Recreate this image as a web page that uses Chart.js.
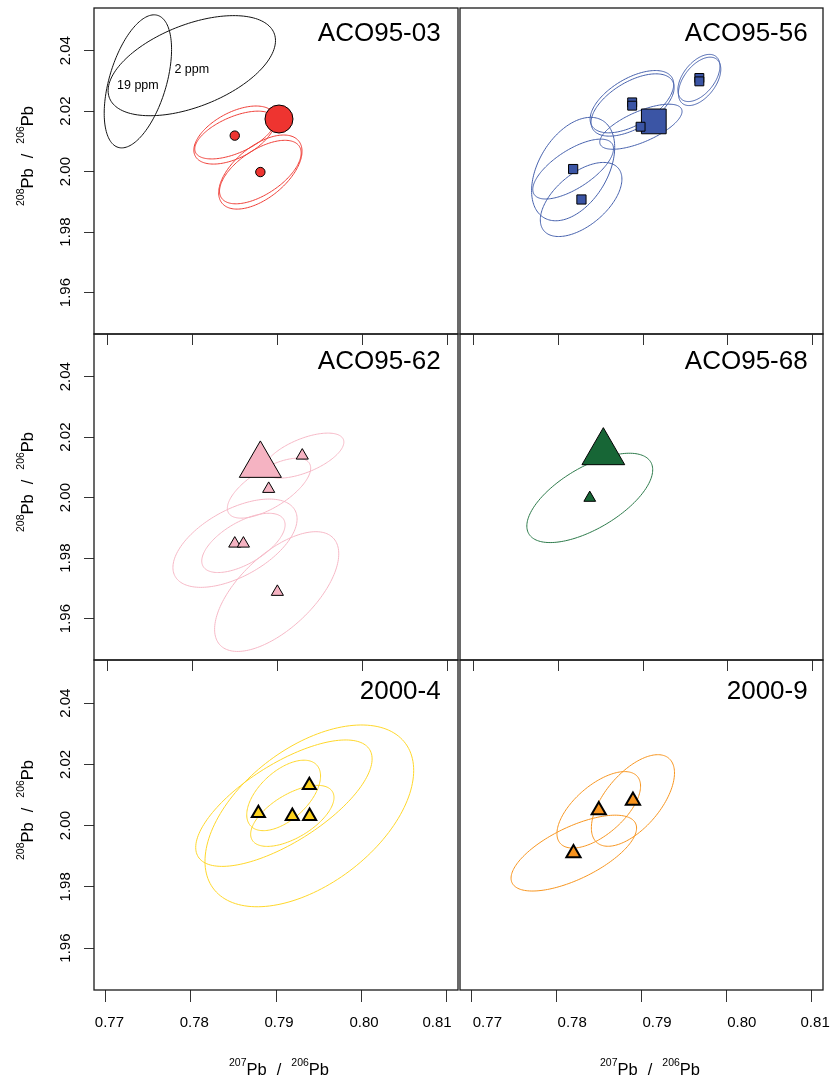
<!DOCTYPE html>
<html>
<head>
<meta charset="utf-8">
<script src="https://cdn.jsdelivr.net/npm/chart.js@4.4.0/dist/chart.umd.min.js"></script>
<style>
    html, body { margin: 0; padding: 0; background: #fff; }
    #wrap { position: relative; width: 838px; height: 1083px; }
    #wrap canvas { position: absolute; left: 0; top: 0; }
</style>
</head>
<body>
<div id="wrap">
    <canvas id="p0" width="838" height="1083"></canvas>
    <canvas id="p1" width="838" height="1083"></canvas>
    <canvas id="p2" width="838" height="1083"></canvas>
    <canvas id="p3" width="838" height="1083"></canvas>
    <canvas id="p4" width="838" height="1083"></canvas>
    <canvas id="p5" width="838" height="1083"></canvas>
</div>
<script>
// Axis setup
const xTicks = [0.77, 0.78, 0.79, 0.80, 0.81];
const yTicks = [1.96, 1.98, 2.00, 2.02, 2.04];
const xRange = [0.7686, 0.8114];
const yRange = [1.9463, 2.0541];

const panelNames = ['ACO95-03', 'ACO95-56', 'ACO95-62', 'ACO95-68', '2000-4', '2000-9'];

// Ellipse rows: centre x, centre y, half range x, half range y, correlation

// ACO95-03 (first point is the large one)
const aco03X = [0.79035, 0.78515, 0.78816];
const aco03Y = [2.01739, 2.01190, 1.99985];
const aco03Ell = [
    [0.78515, 2.01209, 0.00481, 0.00960, 0.52],
    [0.78515, 2.01209, 0.00470, 0.00790, 0.58],
    [0.78816, 1.99985, 0.00490, 0.01225, 0.56],
    [0.78816, 1.99985, 0.00480, 0.01050, 0.60]
];
// standards drawn in black
const stdEll = [
    [0.78010, 2.03503, 0.00984, 0.01655, 0.50],
    [0.77376, 2.02984, 0.00396, 0.02200, 0.48]
];
const stdNames = ['2 ppm', '19 ppm'];
const stdLabelX = [0.78010, 0.77376];
const stdLabelY = [2.03371, 2.02841];

// ACO95-56
const aco56X = [0.79145, 0.78890, 0.78890, 0.79682, 0.79682, 0.78194, 0.78292, 0.78989];
const aco56Y = [2.01660, 2.02289, 2.02180, 2.03096, 2.02984, 2.00084, 1.99078, 2.01484];
const aco56Ell = [
    [0.79677, 2.03096, 0.00248, 0.00780, 0.50],
    [0.79685, 2.02984, 0.00250, 0.00800, 0.50],
    [0.78887, 2.02312, 0.00493, 0.01030, 0.56],
    [0.78895, 2.02203, 0.00490, 0.01030, 0.56],
    [0.78993, 2.01484, 0.00485, 0.00745, 0.68],
    [0.78194, 2.00084, 0.00490, 0.01710, 0.42],
    [0.78194, 2.00084, 0.00476, 0.00990, 0.68],
    [0.78288, 1.99078, 0.00481, 0.01225, 0.55]
];

// ACO95-62
const aco62X = [0.78816, 0.79309, 0.78914, 0.78515, 0.78617, 0.79016];
const aco62Y = [2.01071, 2.01389, 2.00288, 1.98479, 1.98479, 1.96883];
const aco62Ell = [
    [0.79328, 2.01389, 0.00470, 0.00744, 0.60],
    [0.78918, 2.00311, 0.00490, 0.00990, 0.67],
    [0.78518, 1.98492, 0.00730, 0.01460, 0.55],
    [0.78617, 1.98502, 0.00490, 0.00980, 0.61],
    [0.79008, 1.96893, 0.00730, 0.01980, 0.63]
];

// ACO95-68
const aco68X = [0.78550, 0.78390];
const aco68Y = [2.01497, 1.99990];
const aco68Ell = [
    [0.78390, 1.99990, 0.00742, 0.01477, 0.63]
];

// 2000-4
const s4X = [0.79392, 0.78793, 0.79192, 0.79395];
const s4Y = [2.01318, 2.00404, 2.00309, 2.00309];
const s4Ell = [
    [0.79392, 2.00318, 0.01227, 0.02969, 0.50],
    [0.79093, 2.00733, 0.01037, 0.02065, 0.70],
    [0.79090, 2.00986, 0.00434, 0.01151, 0.55],
    [0.79192, 2.00318, 0.00490, 0.00997, 0.60]
];

// 2000-9
const s9X = [0.78899, 0.78496, 0.78198];
const s9Y = [2.00815, 2.00506, 1.99098];
const s9Ell = [
    [0.78899, 2.00821, 0.00490, 0.01496, 0.60],
    [0.78496, 2.00515, 0.00493, 0.01249, 0.62],
    [0.78202, 1.99102, 0.00740, 0.01239, 0.66]
];

const FONT = "'Liberation Sans', Arial, Helvetica, sans-serif";

// Draw "^top Pb / ^bottom Pb" centred at the origin
function drawPbRatio(ctx, top, bottom) {
    const big = '16.5px ' + FONT, small = '10.5px ' + FONT;
    const parts = [[top, small, -9, 0], ['Pb', big, 0, 10], ['/', big, 0, 10],
                   [bottom, small, -9, 0], ['Pb', big, 0, 0]];
    let total = 0;
    parts.forEach(p => { ctx.font = p[1]; p.push(ctx.measureText(p[0]).width); total += p[4] + p[3]; });
    let cur = -total / 2;
    ctx.textAlign = 'left';
    ctx.textBaseline = 'alphabetic';
    parts.forEach(p => {
        ctx.font = p[1];
        ctx.fillText(p[0], cur, p[2]);
        cur += p[4] + p[3];
    });
}

const panelDecor = {
    id: 'panelDecor',
    beforeDatasetsDraw(chart, args, o) {
        const { ctx, chartArea: a, scales: { x, y } } = chart;
        ctx.save();
        ctx.beginPath();
        ctx.rect(a.left, a.top, a.right - a.left, a.bottom - a.top);
        ctx.clip();
        o.ellipses.forEach(group => {
            ctx.strokeStyle = group.color;
            ctx.lineWidth = 1;
            group.rows.forEach(([cx, cy, sx, sy, rho]) => {
                const k = Math.sqrt(1 - rho * rho);
                ctx.beginPath();
                for (let i = 0; i <= 160; i++) {
                    const t = i / 160 * 2 * Math.PI;
                    const px = x.getPixelForValue(cx + sx * Math.cos(t));
                    const py = y.getPixelForValue(cy + sy * (rho * Math.cos(t) + k * Math.sin(t)));
                    if (i === 0) ctx.moveTo(px, py); else ctx.lineTo(px, py);
                }
                ctx.closePath();
                ctx.stroke();
            });
        });
        ctx.restore();
    },
    afterDraw(chart, args, o) {
        const { ctx, chartArea: a, scales: { x, y } } = chart;
        ctx.save();
        ctx.fillStyle = '#000';
        ctx.strokeStyle = '#1a1a1a';

        // frame
        ctx.lineWidth = 1.3;
        ctx.strokeRect(a.left, a.top, a.right - a.left, a.bottom - a.top);

        // x ticks running into the panel below
        if (o.ticksBelow) {
            ctx.lineWidth = 1;
            ctx.strokeStyle = '#333';
            x.ticks.forEach(t => {
                const px = Math.round(x.getPixelForValue(t.value)) + 1.5;
                ctx.beginPath();
                ctx.moveTo(px, a.bottom);
                ctx.lineTo(px, a.bottom + 11);
                ctx.stroke();
            });
        }

        // sample name
        ctx.font = '26px ' + FONT;
        ctx.textAlign = 'right';
        ctx.textBaseline = 'alphabetic';
        ctx.fillText(o.title, o.titleX, a.top + o.titleDy);

        // labels inside the plot
        (o.labels || []).forEach(l => {
            ctx.font = '12.5px ' + FONT;
            ctx.textAlign = 'center';
            ctx.textBaseline = 'middle';
            ctx.fillText(l.text, x.getPixelForValue(l.x), y.getPixelForValue(l.y));
        });

        // left axis labels and title
        if (o.yAxis) {
            ctx.font = '15px ' + FONT;
            y.ticks.forEach(t => {
                ctx.save();
                ctx.translate(a.left - 24, y.getPixelForValue(t.value));
                ctx.rotate(-Math.PI / 2);
                ctx.textAlign = 'center';
                ctx.textBaseline = 'alphabetic';
                ctx.fillText(t.value.toFixed(2), 0, 0);
                ctx.restore();
            });
            ctx.save();
            ctx.translate(33, (a.top + a.bottom) / 2 - 15);
            ctx.rotate(-Math.PI / 2);
            drawPbRatio(ctx, '208', '206');
            ctx.restore();
        }

        // bottom axis labels (set slightly off their ticks, as in the original figure) and title
        if (o.xAxis) {
            ctx.font = '15px ' + FONT;
            ctx.textAlign = 'center';
            ctx.textBaseline = 'alphabetic';
            x.ticks.forEach((t, j) => {
                ctx.fillText(t.value.toFixed(2), x.getPixelForValue(t.value) + o.xLabelShift[j], a.bottom + 36.5);
            });
            ctx.save();
            ctx.translate(o.xTitleX, a.bottom + 85);
            drawPbRatio(ctx, '207', '206');
            ctx.restore();
        }
        ctx.restore();
    }
};

const rects = [
    { left: 94, top: 8, right: 458, bottom: 334 },
    { left: 460, top: 8, right: 823, bottom: 334 },
    { left: 94, top: 334, right: 458, bottom: 660 },
    { left: 460, top: 334, right: 823, bottom: 660 },
    { left: 94, top: 660, right: 458, bottom: 990 },
    { left: 460, top: 660, right: 823, bottom: 990 }
];

function makePanel(i, cfg) {
    const r = rects[i];
    const leftCol = i % 2 === 0;
    const bottomRow = i >= 4;
    const W = 838, H = 1083;

    new Chart(document.getElementById('p' + i), {
        type: 'scatter',
        data: {
            datasets: [{
                data: cfg.xs.map((v, j) => ({ x: v, y: cfg.ys[j] })),
                pointStyle: cfg.style,
                pointRadius: cfg.radius,
                backgroundColor: cfg.fill,
                borderColor: '#000',
                borderWidth: cfg.border,
                clip: false
            }]
        },
        options: {
            responsive: false,
            animation: false,
            devicePixelRatio: 1,
            events: [],
            layout: {
                autoPadding: false,
                padding: {
                    left: leftCol ? 0 : r.left,
                    top: r.top,
                    right: W - r.right,
                    bottom: bottomRow ? 0 : H - r.bottom
                }
            },
            plugins: {
                legend: { display: false },
                tooltip: { enabled: false },
                panelDecor: {
                    ellipses: cfg.ellipses,
                    title: panelNames[i],
                    titleX: leftCol ? 440.7 : 807.7,
                    titleDy: i < 2 ? 33 : (i < 4 ? 35.3 : 39.3),
                    ticksBelow: !bottomRow,
                    yAxis: leftCol,
                    xAxis: bottomRow,
                    xTitleX: leftCol ? 279 : 650,
                    xLabelShift: leftCol ? [3.5, 3.3, 3, 3, -9] : [15.5, 15.5, 15.5, 15.5, 4],
                    labels: cfg.labels
                }
            },
            scales: {
                x: {
                    type: 'linear',
                    min: xRange[0],
                    max: xRange[1],
                    display: bottomRow,
                    afterBuildTicks: s => { s.ticks = xTicks.map(v => ({ value: v })); },
                    afterFit: s => { if (bottomRow) s.height = H - r.bottom; },
                    ticks: { display: false },
                    grid: { drawOnChartArea: false, drawTicks: true, tickLength: 12, color: '#333', lineWidth: 1 },
                    border: { display: false }
                },
                y: {
                    type: 'linear',
                    min: yRange[0],
                    max: yRange[1],
                    display: leftCol,
                    afterBuildTicks: s => { s.ticks = yTicks.map(v => ({ value: v })); },
                    afterFit: s => { if (leftCol) s.width = r.left; },
                    ticks: { display: false },
                    grid: { drawOnChartArea: false, drawTicks: true, tickLength: 10, color: '#333', lineWidth: 1 },
                    border: { display: false }
                }
            }
        },
        plugins: [panelDecor]
    });
}

makePanel(0, {
    xs: aco03X, ys: aco03Y, style: 'circle', radius: [14, 4.7, 4.7], fill: '#EE3430', border: 1,
    ellipses: [{ color: '#111', rows: stdEll }, { color: '#EF3F38', rows: aco03Ell }],
    labels: stdNames.map((t, j) => ({ text: t, x: stdLabelX[j], y: stdLabelY[j] }))
});
makePanel(1, {
    xs: aco56X, ys: aco56Y, style: 'rect', radius: [17.5, 6.3, 6.3, 6.3, 6.3, 6.5, 6.5, 6.3], fill: '#3B55A5', border: 1,
    ellipses: [{ color: '#4560AC', rows: aco56Ell }]
});
makePanel(2, {
    xs: aco62X, ys: aco62Y, style: 'triangle', radius: [24.3, 7, 7, 7, 7, 7], fill: '#F5B3C2', border: 1,
    ellipses: [{ color: '#F6B8C6', rows: aco62Ell }]
});
makePanel(3, {
    xs: aco68X, ys: aco68Y, style: 'triangle', radius: [24.7, 6.8], fill: '#176636', border: 1,
    ellipses: [{ color: '#2C7A4A', rows: aco68Ell }]
});
makePanel(4, {
    xs: s4X, ys: s4Y, style: 'triangle', radius: 7.6, fill: '#FDD21C', border: 2,
    ellipses: [{ color: '#FFD72A', rows: s4Ell }]
});
makePanel(5, {
    xs: s9X, ys: s9Y, style: 'triangle', radius: 8.2, fill: '#F7931E', border: 2,
    ellipses: [{ color: '#F7951F', rows: s9Ell }]
});
</script>
</body>
</html>
